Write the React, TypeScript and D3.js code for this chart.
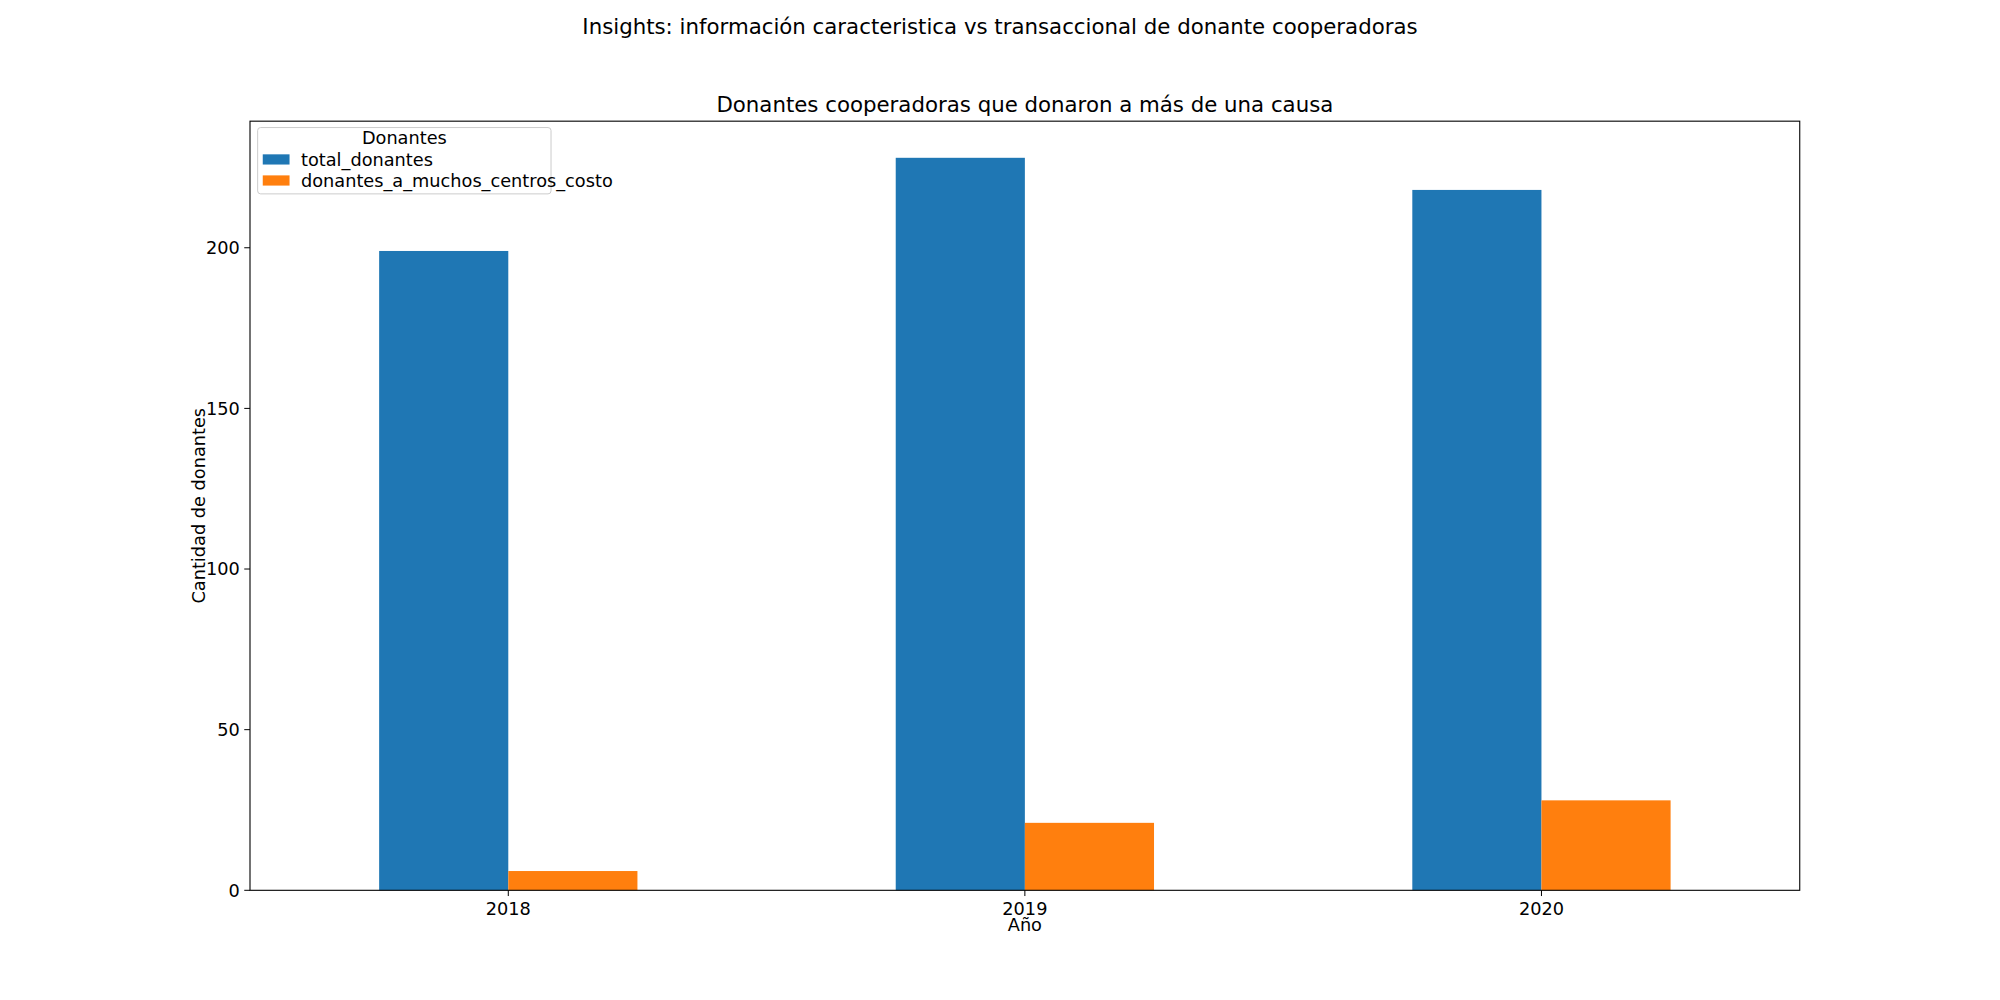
import React from "react";
import * as d3 from "d3";

const years = ["2018", "2019", "2020"];
const seriesNames = ["total_donantes", "donantes_a_muchos_centros_costo"];
const totalDonantes = [199, 228, 218];
const donantesMuchos = [6, 21, 28];
const colors = ["#1f77b4", "#ff7f0e"];
const yTicks = [0, 50, 100, 150, 200];

const S = 2000 / 1568;

export default function App() {
  const W = 2000, H = 1000;
  const left = 196 * S, right = 1411 * S, top = 95 * S, bottom = 698 * S;
  const x = d3.scaleLinear().domain([-0.5, 2.5]).range([left, right]);
  const yMax = d3.max([...totalDonantes, ...donantesMuchos])! * 1.05;
  const y = d3.scaleLinear().domain([0, yMax]).range([bottom, top]);
  const series = [totalDonantes, donantesMuchos];
  const bw = 0.25;
  const font = "DejaVu Sans, sans-serif";
  const fs = 13.9 * S;
  const tfs = 16.7 * S;
  return (
    <svg width={W} height={H} style={{ position: "absolute", left: 0, top: 0, background: "#fff" }} fontFamily={font}>
      <text x={W / 2} y={27 * S} textAnchor="middle" fontSize={tfs}>Insights: información caracteristica vs transaccional de donante cooperadoras</text>
      <text x={(left + right) / 2} y={88 * S} textAnchor="middle" fontSize={tfs}>Donantes cooperadoras que donaron a más de una causa</text>
      {series.map((vals, si) =>
        vals.map((v, i) => {
          const x0 = x(i - bw + si * bw);
          return <rect key={si + "-" + i} x={x0} width={x(bw) - x(0)} y={y(v)} height={y(0) - y(v)} fill={colors[si]} />;
        })
      )}
      <rect x={left} y={top} width={right - left} height={bottom - top} fill="none" stroke="#000" strokeWidth={1.1} />
      {yTicks.map((t) => (
        <g key={t}>
          <line x1={left - 4.5 * S} x2={left} y1={y(t)} y2={y(t)} stroke="#000" />
          <text x={left - 8 * S} y={y(t)} dy="0.35em" textAnchor="end" fontSize={fs}>{t}</text>
        </g>
      ))}
      {years.map((yr, i) => (
        <g key={yr}>
          <line x1={x(i)} x2={x(i)} y1={bottom} y2={bottom + 4.5 * S} stroke="#000" />
          <text x={x(i)} y={bottom + 8 * S + fs * 0.8} textAnchor="middle" fontSize={fs}>{yr}</text>
        </g>
      ))}
      <text x={(left + right) / 2} y={730 * S} textAnchor="middle" fontSize={fs}>Año</text>
      <text transform={`translate(${161 * S},${(top + bottom) / 2}) rotate(-90)`} textAnchor="middle" fontSize={fs}>Cantidad de donantes</text>
      <g>
        <rect x={202 * S} y={100 * S} width={230 * S} height={52 * S} fill="#fff" fillOpacity={0.8} stroke="#ccc" rx={3} />
        <text x={317 * S} y={113 * S} textAnchor="middle" fontSize={fs}>Donantes</text>
        {seriesNames.map((n, i) => (
          <g key={n}>
            <rect x={206 * S} y={(121 + i * 16.5) * S} width={21 * S} height={8 * S} fill={colors[i]} />
            <text x={236 * S} y={(125 + i * 16.5) * S} dy="0.35em" fontSize={fs}>{n}</text>
          </g>
        ))}
      </g>
    </svg>
  );
}
